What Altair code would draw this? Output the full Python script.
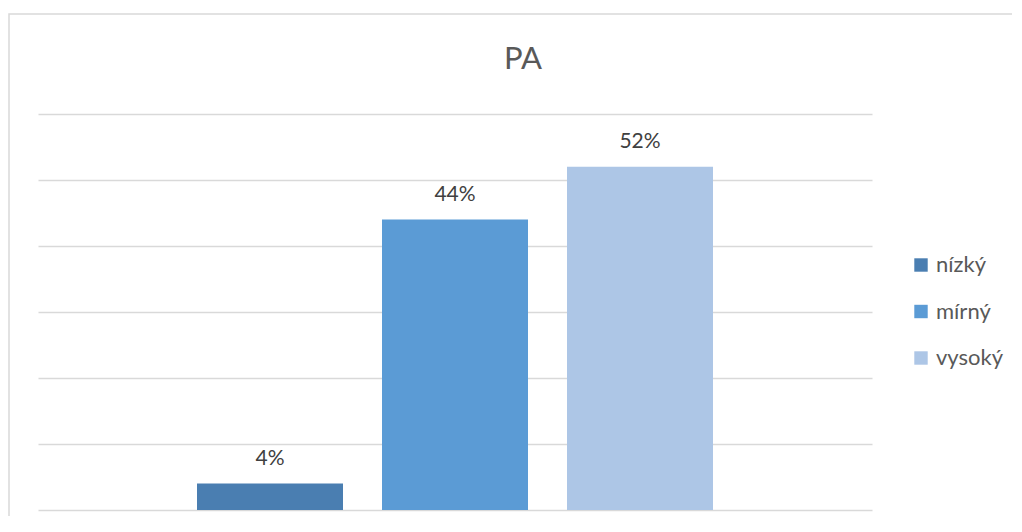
import altair as alt
import pandas as pd

categories = ["nízký", "mírný", "vysoký"]
values = [4, 44, 52]
colors = ["#4A7EB1", "#5B9BD5", "#ADC6E6"]
grid_ticks = [0, 10, 20, 30, 40, 50, 60]
title_text = "PA"

df = pd.DataFrame({"kat": categories, "val": values})
df["label"] = df["val"].astype(str) + "%"

W, H = 834, 396
FONT = "Lato"

xscale = alt.Scale(domain=categories, paddingInner=0.2108, paddingOuter=0.8595)
yscale = alt.Scale(domain=[0, 60], nice=False)

bars = alt.Chart(df).mark_bar().encode(
    x=alt.X("kat:N", scale=xscale, axis=None, sort=categories),
    y=alt.Y("val:Q", scale=yscale,
            axis=alt.Axis(values=grid_ticks, labels=False, ticks=False, domain=False,
                          grid=True, gridColor="#d9d9d9", gridWidth=1.5, title=None)),
    color=alt.Color("kat:N", sort=categories,
                    scale=alt.Scale(domain=categories, range=colors),
                    legend=alt.Legend(title=None, orient="none", legendX=872, legendY=140,
                                      symbolType="square", symbolSize=180,
                                      symbolStrokeWidth=0, labelFont=FONT,
                                      labelFontSize=22, labelColor="#595959",
                                      rowPadding=24.5, labelOffset=4)),
)

texts = alt.Chart(df).mark_text(font=FONT, fontSize=21, color="#404040",
                                baseline="alphabetic", dy=-19).encode(
    x=alt.X("kat:N", scale=xscale, sort=categories),
    y=alt.Y("val:Q", scale=yscale),
    text="label:N",
)

frame = alt.Chart(pd.DataFrame({"a": [0]})).mark_rect(
    fill=None, stroke="#d9d9d9", strokeWidth=1.5
).encode(
    x=alt.value(-29), x2=alt.value(1100), y=alt.value(-100), y2=alt.value(600)
)

title = alt.Chart(pd.DataFrame({"t": [title_text]})).mark_text(
    font=FONT, fontSize=31, color="#595959", baseline="alphabetic", align="center"
).encode(
    x=alt.value(485), y=alt.value(-45), text="t:N"
)

chart = alt.layer(frame, bars, texts, title).properties(
    width=W, height=H,
    padding={"left": 30, "top": 106, "right": 140, "bottom": 6},
    autosize=alt.AutoSizeParams(type="none"),
).configure_view(stroke=None)

chart.save("out.html", embed_options={"renderer": "svg", "actions": False})
